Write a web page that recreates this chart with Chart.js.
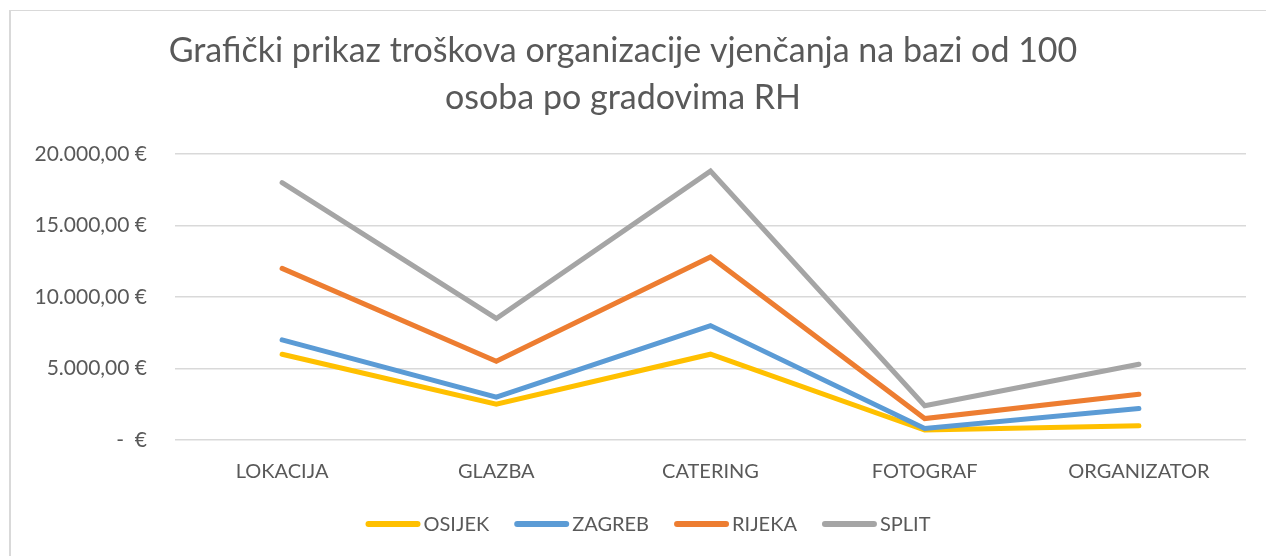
<!DOCTYPE html>
<html>
<head>
<meta charset="utf-8">
<script src="https://cdn.jsdelivr.net/npm/chart.js@4.4.1/dist/chart.umd.min.js"></script>
<style>
  html, body { margin: 0; padding: 0; background: #ffffff; }
  #wrap { position: relative; width: 1266px; height: 556px; overflow: hidden; }
  #frame { position: absolute; left: 9px; top: 10px; width: 1300px; height: 600px;
           border-left: 2px solid #d9d9d9; border-top: 1px solid #d9d9d9; }
  canvas { position: absolute; left: 0; top: 0; }
</style>
</head>
<body>
<div id="wrap">
  <div id="frame"></div>
  <canvas id="c" width="1266" height="556"></canvas>
</div>
<script>
const titleLines = ['Grafički prikaz troškova organizacije vjenčanja na bazi od 100', 'osoba po gradovima RH'];
const categories = ['LOKACIJA', 'GLAZBA', 'CATERING', 'FOTOGRAF', 'ORGANIZATOR'];
const seriesNames = ['OSIJEK', 'ZAGREB', 'RIJEKA', 'SPLIT'];
const osijek = [6000, 2500, 6000, 700, 1000];
const zagreb = [7000, 3000, 8000, 800, 2200];
const rijeka = [12000, 5500, 12800, 1500, 3200];
const split  = [18000, 8500, 18800, 2400, 5300];
const yTicks = [0, 5000, 10000, 15000, 20000];
const colors = ['#FFC000', '#5B9BD5', '#ED7D31', '#A5A5A5'];

const TEXT = '#595959';
const FONT = 'Lato';

function fmtEuro(v) {
  if (v === 0) return '-  €';
  const s = Math.round(v).toString().replace(/\B(?=(\d{3})+(?!\d))/g, '.');
  return s + ',00 €';
}

const seriesValues = [osijek, zagreb, rijeka, split];
const datasets = seriesNames.map((name, i) => ({
  label: name,
  data: seriesValues[i],
  borderColor: colors[i],
  backgroundColor: colors[i],
  borderWidth: 5,
  borderCapStyle: 'round',
  borderJoinStyle: 'miter',
  pointRadius: 0,
  pointHoverRadius: 0,
  tension: 0,
  fill: false,
  order: seriesNames.length - i
}));

const customLegend = {
  id: 'customLegend',
  afterDraw(chart) {
    const ctx = chart.ctx;
    ctx.save();
    ctx.font = '20px ' + FONT;
    ctx.textBaseline = 'middle';
    const lineLen = 55, gapLT = 3, gapItem = 25, y = 524;
    const items = chart.data.datasets.map(ds => ({
      label: ds.label, color: ds.borderColor, w: ctx.measureText(ds.label).width
    }));
    let total = 0;
    items.forEach((it, i) => { total += lineLen + gapLT + it.w + (i < items.length - 1 ? gapItem : 0); });
    let x = 648 - total / 2;
    items.forEach(it => {
      ctx.strokeStyle = it.color;
      ctx.lineWidth = 6;
      ctx.lineCap = 'round';
      ctx.beginPath();
      ctx.moveTo(x + 3, y);
      ctx.lineTo(x + lineLen - 3, y);
      ctx.stroke();
      ctx.fillStyle = TEXT;
      ctx.textAlign = 'left';
      ctx.fillText(it.label, x + lineLen + gapLT, y + 1);
      x += lineLen + gapLT + it.w + gapItem;
    });
    ctx.restore();
  }
};

new Chart(document.getElementById('c'), {
  type: 'line',
  data: { labels: categories, datasets: datasets },
  options: {
    responsive: false,
    animation: false,
    devicePixelRatio: 1,
    layout: { padding: { left: 0, right: 20, top: 0, bottom: 52 } },
    plugins: {
      legend: { display: false },
      tooltip: { enabled: false },
      title: {
        display: true,
        text: titleLines,
        color: TEXT,
        font: { family: FONT, size: 34, weight: 'normal', lineHeight: '47px' },
        padding: { top: 28, bottom: 32 }
      }
    },
    scales: {
      x: {
        offset: true,
        grid: { display: false, drawTicks: false },
        border: { display: false },
        ticks: { color: TEXT, font: { family: FONT, size: 20 }, padding: 20, maxRotation: 0 }
      },
      y: {
        min: 0,
        max: 20000,
        afterBuildTicks(scale) { scale.ticks = yTicks.map(v => ({ value: v })); },
        afterFit(scale) { scale.width = 175; },
        grid: { color: '#d9d9d9', lineWidth: 1.5, drawTicks: false },
        border: { display: false },
        ticks: { color: TEXT, font: { family: FONT, size: 21 }, padding: 28, callback: v => fmtEuro(v) }
      }
    }
  },
  plugins: [customLegend]
});
</script>
</body>
</html>
